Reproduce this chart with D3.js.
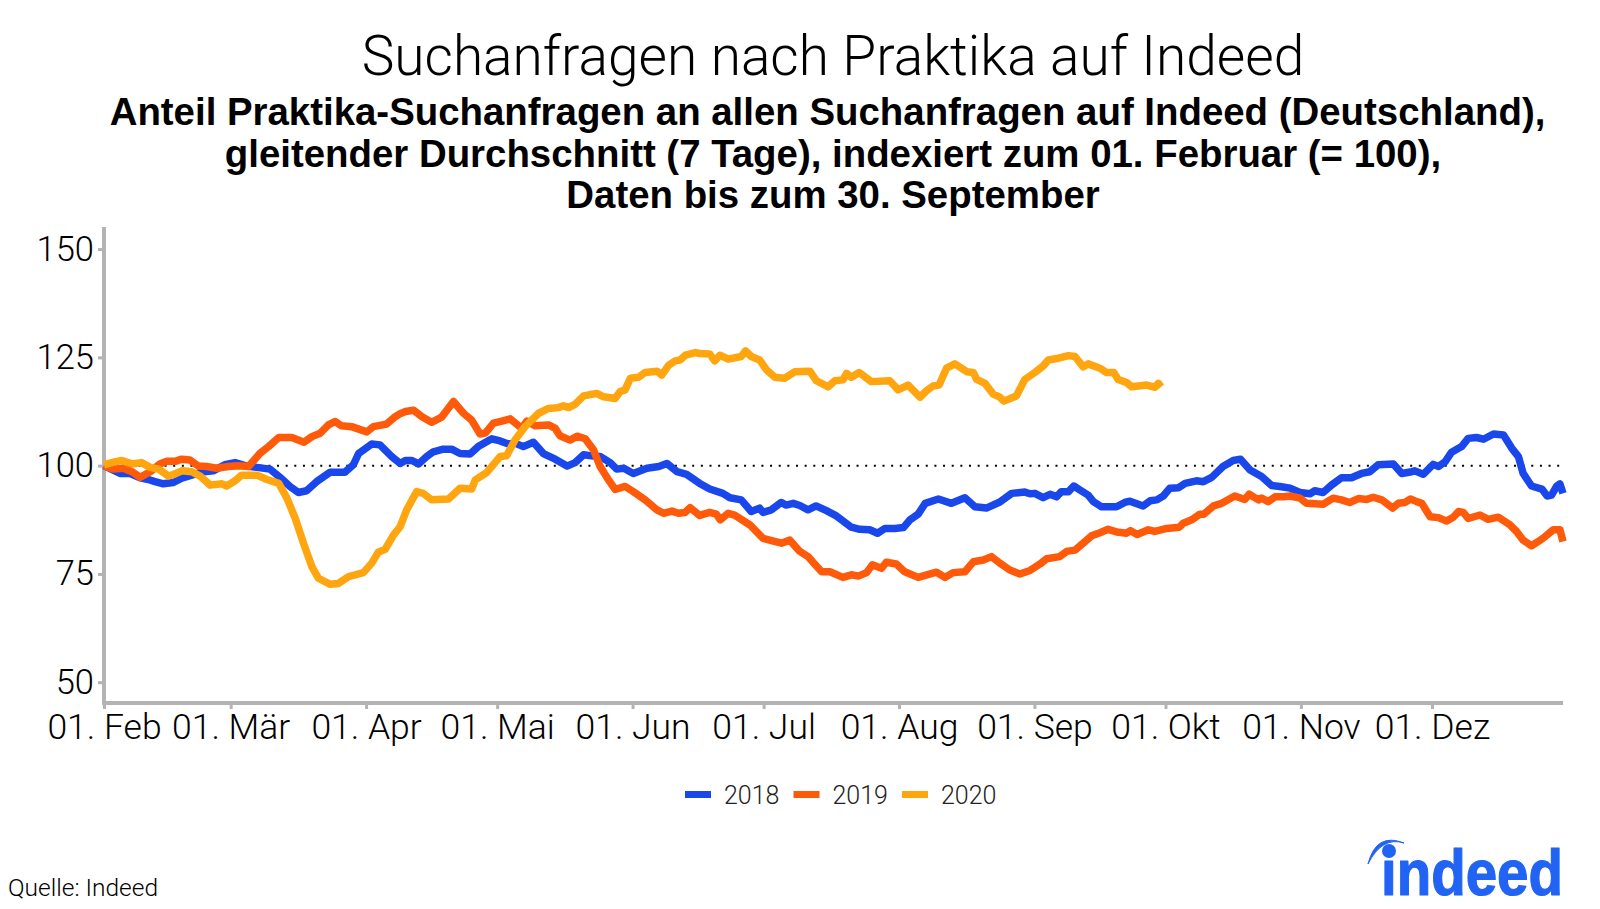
<!DOCTYPE html>
<html>
<head>
<meta charset="utf-8">
<script src="https://d3js.org/d3.v7.min.js"></script>
<style>
  body { margin: 0; background: #fff; }
  text { font-family: "Liberation Sans", sans-serif; }
  .light { font-family: Roboto, sans-serif; font-weight: 300; }
</style>
</head>
<body>
<svg id="chart" width="1600" height="909"></svg>
<script>
// days since 01. Feb
var days2018 = [0,3.7,6,8.3,10.2,11.7,13.6,15.9,17.8,20.1,22.4,25,27.7,30,32.7,35,38,40.3,42.6,44.5,46.4,48.7,51.8,55.2,57.1,58.3,61.3,63.2,65.9,67.8,69,70.5,72,73.9,75.4,77.7,79.6,81.5,83.8,85.7,88.8,90.7,92.6,94.1,96,98.3,100.6,103.3,106,107.9,109.8,112.1,113.6,115.9,117.4,119,121.2,124.3,127,128.9,131.2,133.4,136.4,138.7,141.7,143.3,145.9,148.2,150.1,150.9,152.8,155,156.2,157.8,159.3,161.2,163,165.4,167.7,171.1,173,175.3,177.1,178.8,181.1,183,184.5,186.4,188,191,194,197.1,199.4,202,205.1,207.8,210.8,212,213.1,215,216.6,218.1,219.2,220.8,222,223.4,225.3,226.5,228.4,231.8,233.7,234.9,237.9,239.5,241,242.5,244,246,247.5,250.1,251.7,253.6,256.2,258.5,260.2,262.4,265,267.3,269.2,271.5,273.8,276.1,277.2,279.1,281,283.3,285.6,287.9,289.8,291.7,295.2,297.1,299.4,300.1,302,304.3,305.5,307,308.5,310.8,312.3,314.2,315.8,318.1,320.4,322.3,323.8,324.9,326.8,329.2,330.4,331.4,332.6,333.3,334];
var values2018 = [100,98.2,98.2,97.2,96.8,96.3,95.8,96.1,97.1,97.8,98.5,98.8,100.2,100.7,99.9,99.6,99.2,97.3,95.2,93.8,94.2,96.3,98.5,98.5,100.2,102.8,105,104.8,102.1,100.5,101.2,101.2,100.4,102.1,103.2,103.8,103.8,102.8,102.7,104.4,106.2,105.7,105,105.2,104.4,105.4,102.8,101.5,99.9,100.7,102.5,102.2,102.1,100.7,99.2,99.4,98.2,99.4,99.8,100.5,98.6,98,95.9,94.6,93.6,92.6,92.1,89.4,90.2,89.2,89.8,91.5,90.9,91.3,90.8,89.8,90.7,89.6,88.4,85.8,85.3,85.2,84.4,85.5,85.5,85.7,87.5,88.8,91.3,92.3,91.3,92.6,90.5,90.2,91.6,93.6,93.9,93.5,93.6,92.6,93.4,92.8,94,94,95.3,94.4,93.2,91.7,90.5,90.5,91.5,91.8,90.7,91.9,92.1,93,94.8,94.9,95.9,96.5,96.3,97.3,99.8,101.2,101.5,99,97.5,95.4,95.2,94.8,93.8,93.5,94.2,93.8,95.5,97.2,97.2,98.2,98.6,100.2,100.4,98.2,98.6,98.8,98,100.3,99.8,100.9,103.1,104.4,106.3,106.5,106.1,107.3,107.1,104,102.1,98.2,95.3,94.6,93,93.2,95.3,95.8,93.6];

var days2019 = [0,2.2,4.5,6.4,8.3,10.6,12.8,14.4,16.3,17.8,19.7,21.6,23.5,25.8,28.5,30.8,33.1,35.7,37.7,40,43,45.8,47.6,49.5,51.4,52.9,54.4,56.7,60.2,61.7,64.7,66.7,67.8,69,70.9,72.8,75,77.3,80,82.3,84.2,86.1,87.3,89.2,91.1,93,95.7,96.8,98.7,101.8,103.3,104.4,106.7,108.3,110.2,112.1,113.6,115.5,117,119.3,121.2,123.9,126.6,128.1,130,131.5,133,134.2,136.4,138.7,140.2,141.1,142.9,144.4,147.9,150.9,152.4,155.1,157,159.3,161.2,162.7,164.3,166.2,169.2,171.1,172.7,174.6,175.9,178,179.1,181.4,183.3,186.4,190.6,192.5,194.4,197.1,199,201.3,203.2,205.1,207.4,209.7,212,214.3,215.8,218.8,220.4,222.3,224.2,226.1,228,229.9,231.8,234.1,235,236.5,239.1,240.6,243.3,246.2,247.1,249,250.9,251.8,254,255.9,258.9,261.2,262.2,264.3,265,266.5,268.1,270,271.5,273.8,275.3,279.1,281.4,283.3,285.2,287.2,289.1,290.6,292.5,295,296.3,297.8,299.1,300.5,301.7,303.6,305.5,307.4,308.9,310.1,311.2,312.3,315,316.9,319.2,321.9,323.4,324.9,326.8,328.4,329.9,331.8,333.3,334];
var values2019 = [100,99.2,99.4,98.6,97.3,98.6,100.4,101,101,101.5,101.3,99.9,99.8,99.4,99.8,100,99.8,102.8,104.4,106.5,106.5,105.4,106.7,107.5,109.4,110.2,109.2,109,107.8,109,109.6,111.3,112,112.5,112.8,111.3,110,111.2,114.8,112.1,110.5,107.3,107.5,109.8,110.3,110.8,108.6,110.3,109.2,109.4,108.6,106.9,105.9,106.8,106.2,103.6,99.8,96.7,94.5,95.2,94,92.1,89.8,89,89.5,89,89.2,90.3,88.5,89.2,88.8,87.5,89,88.6,86.3,83.2,82.8,82.1,82.8,80.2,79,77.3,75.5,75.5,74.2,74.8,74.5,75.3,77.1,76.3,77.7,77.3,75.5,74.2,75.4,74.2,75.3,75.5,77.8,78.2,79,77.5,75.9,75,75.8,77.3,78.5,79,80.2,80.5,82.1,83.8,84.5,85.3,84.7,84.4,85,84.1,85.2,84.8,85.5,85.8,86.7,87.5,88.8,88.8,90.7,91.3,93,92.2,93.4,92.1,92.5,91.7,92.8,92.8,93,92.5,91.3,91.1,92.5,92.1,91.5,92.4,92.2,92.7,92.1,90.2,91.3,91.5,92.3,91.7,91.3,88.2,88,87.2,88.1,89.4,89.2,87.8,88.6,87.6,88.1,86.3,84.8,82.8,81.5,82.5,83.6,85.2,85.2,82.5];

var days2020 = [0,2.2,4.1,6.4,8.6,10.6,12.5,14.8,16.3,17.8,20.1,22,24.3,27,28.1,30,31.5,35,37.3,40,41.9,43.8,45.7,47.6,49.1,51.8,53.7,56,59.4,61.3,62.8,64.4,66.3,67.8,69.3,71.6,73.1,75,78.9,81.5,84.2,85,87.6,90.7,92.2,94.1,96.4,99.5,101.8,104,105.2,106.4,107.9,109.8,112.8,114.4,117,118.2,119.3,120.5,122.4,123.9,126.6,127.7,129.3,130.8,131.9,133.1,135.4,136.4,138.7,139.8,141,142.9,145.9,146.9,148.2,150.1,151.7,153.6,155.9,158.2,161.6,163.1,165.8,167.3,169.2,170,171.1,172.9,175.7,179.9,181.8,184.1,186.8,188.3,189.8,191.2,192.9,194.8,197.5,199,199.8,201.7,203.6,205.1,206,208.9,210.8,213.1,215,216.2,218.5,220.8,222.3,224.2,225.3,228,229.5,231.2,232.2,234.1,235.3,238.7,240.6,241.4,242];
var values2020 = [100.2,100.8,101.2,100.4,100.7,99.6,99.2,97.6,98.1,98.8,98.6,97.6,95.5,95.8,95.3,96.5,97.8,97.8,96.8,95.9,92.5,87.8,82.1,76.7,74,72.6,72.8,74.4,75.3,77.5,80,80.7,84,85.9,89.8,94,93.6,92.1,92.3,94.8,94.6,96.7,98.4,102.1,102.3,105.9,109,112.1,113.2,113.4,113.8,113.4,114.2,116.1,116.7,115.9,115.5,117.1,117.5,120.2,120.4,121.5,121.8,120.9,123.2,124.2,124.4,125.5,126.1,125.9,125.8,124.2,125.5,124.6,125.2,126.5,125.2,124.4,122.1,120.4,120.2,121.7,121.8,119.6,118.2,119.6,119.8,121.3,120.4,121.5,119.4,119.6,117.5,118.6,115.8,117.3,118.4,118.6,122.5,123.5,121.7,121.5,119.9,119,116.5,115.8,114.9,116.1,119.9,121.5,123,124.4,124.8,125.4,125.2,122.8,123.5,122.5,121.5,121.5,119.9,119.2,118.2,118.6,118.1,119,118.2];

var yearLabels = ["2018", "2019", "2020"];
var yearColors = ["#1a47ec", "#ff5a0a", "#ffa50f"];
var xTickLabels = ["01. Feb", "01. Mär", "01. Apr", "01. Mai", "01. Jun", "01. Jul", "01. Aug", "01. Sep", "01. Okt", "01. Nov", "01. Dez"];
var yTickValues = [50, 75, 100, 125, 150];

var grey = "#b3b3b3";
var svg = d3.select("#chart");

var x = d3.scaleTime()
    .domain([new Date(2020, 1, 1), new Date(2020, 11, 31)])
    .range([104, 1563]);
var y = d3.scaleLinear()
    .domain([45.2, 155.1])
    .range([703, 227]);

// title block
svg.append("text").attr("class", "light")
    .attr("x", 833).attr("y", 75)
    .attr("text-anchor", "middle")
    .attr("font-size", 55)
    .text("Suchanfragen nach Praktika auf Indeed");

var subLines = [
    ["Anteil Praktika-Suchanfragen an allen Suchanfragen auf Indeed (Deutschland),", 827.5, 125],
    ["gleitender Durchschnitt (7 Tage), indexiert zum 01. Februar (= 100),", 833, 167],
    ["Daten bis zum 30. September", 833, 208]
];
subLines.forEach(function(l) {
    svg.append("text")
        .attr("x", l[1]).attr("y", l[2])
        .attr("text-anchor", "middle")
        .attr("font-size", 38.4)
        .attr("font-weight", "bold")
        .text(l[0]);
});

// axes
var xTicks = d3.timeMonth.range(new Date(2020, 1, 1), new Date(2020, 11, 2));
var xAxis = d3.axisBottom(x)
    .tickValues(xTicks)
    .tickFormat(function(d, i) { return xTickLabels[i]; })
    .tickSize(6).tickPadding(5);
var yAxis = d3.axisLeft(y)
    .tickValues(yTickValues)
    .tickSize(6).tickPadding(4);

var gx = svg.append("g").attr("transform", "translate(0,703)").call(xAxis);
var gy = svg.append("g").attr("transform", "translate(104,0)").call(yAxis);

[gx, gy].forEach(function(g) {
    g.select(".domain").attr("stroke", grey).attr("stroke-width", 4);
    g.selectAll(".tick line").attr("stroke", grey).attr("stroke-width", 3);
    g.selectAll(".tick text")
        .attr("class", "light")
        .attr("fill", "#000");
});
gx.selectAll(".tick text").attr("font-size", 35.5);
gy.selectAll(".tick text").attr("font-size", 34.5);
gx.select(".domain").attr("d", "M102,0H1563");
gy.select(".domain").attr("d", "M0,227V705");

// 100 line
svg.append("line")
    .attr("x1", x.range()[0]).attr("x2", x.range()[1])
    .attr("y1", y(100)).attr("y2", y(100))
    .attr("stroke", "#000")
    .attr("stroke-width", 2)
    .attr("stroke-dasharray", "2 6.65");

var line = d3.line()
    .x(function(d) { return x(d3.timeHour.offset(new Date(2020, 1, 1), d[0] * 24)); })
    .y(function(d) { return y(d[1]); });

var allDays = [days2018, days2019, days2020];
var allValues = [values2018, values2019, values2020];

yearLabels.forEach(function(year, i) {
    svg.append("path")
        .datum(d3.zip(allDays[i], allValues[i]))
        .attr("fill", "none")
        .attr("stroke", yearColors[i])
        .attr("stroke-width", 7.5)
        .attr("stroke-linejoin", "round")
        .attr("d", line);
});

// legend
var legendKeys = d3.scalePoint().domain(yearLabels).range([685, 902]);
yearLabels.forEach(function(year, i) {
    var lx = legendKeys(year);
    svg.append("rect")
        .attr("x", lx).attr("y", 791)
        .attr("width", 26).attr("height", 7)
        .attr("fill", yearColors[i]);
    svg.append("text").attr("class", "light")
        .attr("x", lx + 39).attr("y", 804)
        .attr("font-size", 25)
        .attr("fill", "#222")
        .text(year);
});

// source
svg.append("text").attr("class", "light")
    .attr("x", 8).attr("y", 896)
    .attr("font-size", 24.5)
    .text("Quelle: Indeed");

// logo
var logoBlue = "#2164f3";
svg.append("text")
    .attr("x", 1381).attr("y", 895)
    .attr("font-size", 64)
    .attr("font-weight", "bold")
    .attr("fill", logoBlue)
    .attr("stroke", logoBlue)
    .attr("stroke-width", 1.2)
    .attr("stroke-linejoin", "round")
    .attr("textLength", 182)
    .attr("lengthAdjust", "spacingAndGlyphs")
    .text("indeed");
svg.append("circle").attr("cx", 1389).attr("cy", 851).attr("r", 7).attr("fill", logoBlue);
svg.append("path")
    .attr("d", "M1368,864 Q1376,832 1404,843 Q1382,836 1368,864Z")
    .attr("fill", logoBlue)
    .attr("stroke", logoBlue)
    .attr("stroke-width", 1);
</script>
</body>
</html>
